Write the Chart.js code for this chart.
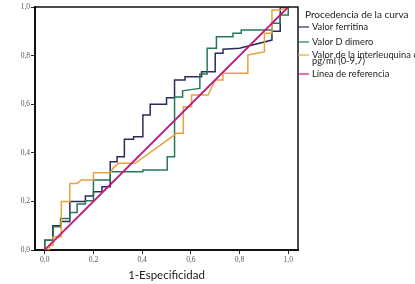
<!DOCTYPE html>
<html>
<head>
<meta charset="utf-8">
<script src="https://cdn.jsdelivr.net/npm/chart.js@4.4.0/dist/chart.umd.min.js"></script>
<style>
  html, body { margin: 0; padding: 0; background: #fff; }
  #wrap { width: 415px; height: 284px; }
</style>
</head>
<body>
<div id="wrap"><canvas id="roc" width="415" height="284"></canvas></div>
<script>
// ROC curves
const tickValues = [0, 0.2, 0.4, 0.6, 0.8, 1.0];

const ferritinaX = [0, 0, 0.033, 0.033, 0.067, 0.067, 0.103, 0.103, 0.167, 0.167, 0.2, 0.2, 0.235, 0.235, 0.269, 0.269, 0.297, 0.297, 0.327, 0.327, 0.365, 0.365, 0.403, 0.403, 0.433, 0.433, 0.5, 0.5, 0.533, 0.533, 0.576, 0.576, 0.644, 0.644, 0.7, 0.7, 0.732, 0.732, 0.8, 0.933, 0.933, 0.967, 0.967, 1];
const ferritinaY = [0, 0.04, 0.04, 0.1, 0.1, 0.117, 0.117, 0.2, 0.2, 0.222, 0.222, 0.24, 0.24, 0.26, 0.26, 0.363, 0.363, 0.384, 0.384, 0.456, 0.456, 0.466, 0.466, 0.556, 0.556, 0.6, 0.6, 0.627, 0.627, 0.7, 0.7, 0.713, 0.713, 0.734, 0.734, 0.81, 0.81, 0.826, 0.83, 0.864, 0.9, 0.9, 1, 1];

const dimeroX = [0, 0, 0.035, 0.035, 0.065, 0.065, 0.103, 0.103, 0.133, 0.133, 0.167, 0.167, 0.2, 0.2, 0.269, 0.269, 0.403, 0.403, 0.503, 0.503, 0.533, 0.533, 0.566, 0.566, 0.6, 0.637, 0.637, 0.667, 0.667, 0.705, 0.705, 0.773, 0.773, 0.807, 0.807, 0.933, 0.933, 0.967, 0.967, 1, 1];
const dimeroY = [0, 0.04, 0.04, 0.096, 0.096, 0.13, 0.13, 0.154, 0.154, 0.189, 0.189, 0.203, 0.203, 0.288, 0.288, 0.322, 0.322, 0.329, 0.329, 0.384, 0.384, 0.63, 0.63, 0.655, 0.66, 0.665, 0.724, 0.724, 0.83, 0.83, 0.878, 0.878, 0.892, 0.892, 0.905, 0.905, 0.933, 0.933, 0.967, 0.967, 1];

const il6X = [0, 0.02, 0.02, 0.035, 0.035, 0.068, 0.068, 0.103, 0.103, 0.133, 0.15, 0.2, 0.2, 0.269, 0.28, 0.303, 0.371, 0.542, 0.569, 0.569, 0.603, 0.603, 0.671, 0.7, 0.732, 0.732, 0.834, 0.834, 0.87, 0.902, 0.902, 0.933, 0.933, 0.967, 1];
const il6Y = [0, 0, 0.02, 0.02, 0.055, 0.055, 0.2, 0.2, 0.274, 0.274, 0.288, 0.288, 0.318, 0.318, 0.336, 0.357, 0.357, 0.48, 0.48, 0.59, 0.59, 0.638, 0.638, 0.7, 0.7, 0.727, 0.727, 0.802, 0.81, 0.815, 0.892, 0.892, 0.988, 0.988, 1];

const refX = [0, 1];
const refY = [0, 1];

const seriesNames = ['Valor ferritina', 'Valor D dimero', ['Valor de la interleuquina 6', 'pg/ml (0-9,7)'], 'Línea de referencia'];
const seriesColors = ['#2b2a5c', '#2a7757', '#e8a33e', '#c4177f'];
const legendTitle = 'Procedencia de la curva';
const xTitle = '1-Especificidad';

function toPoints(xs, ys) {
  return xs.map((x, i) => ({ x: x, y: ys[i] }));
}

const fmt = v => v.toFixed(1).replace('.', ',');

// frame on top/right + legend on the right side
const framePlugin = {
  id: 'frameAndLegend',
  afterDraw(chart) {
    const ctx = chart.ctx;
    const a = chart.chartArea;
    ctx.save();
    ctx.strokeStyle = '#111';
    ctx.lineWidth = 1.5;
    ctx.beginPath();
    ctx.moveTo(a.left, a.top);
    ctx.lineTo(a.right, a.top);
    ctx.lineTo(a.right, a.bottom);
    ctx.stroke();

    ctx.fillStyle = '#222';
    ctx.textBaseline = 'middle';
    ctx.font = '10px Lato';
    ctx.fillText(legendTitle, a.right + 7, 15);

    ctx.font = '9.3px Lato';
    const rows = [27, 42, 55, 74];
    seriesNames.forEach((name, i) => {
      const y = rows[i];
      ctx.strokeStyle = seriesColors[i];
      ctx.lineWidth = 1.2;
      ctx.beginPath();
      ctx.moveTo(a.right, y);
      ctx.lineTo(a.right + 11, y);
      ctx.stroke();
      ctx.fillStyle = '#222';
      if (Array.isArray(name)) {
        ctx.fillText(name[0], a.right + 14, y);
        ctx.fillText(name[1], a.right + 14, y + 6);
      } else {
        ctx.fillText(name, a.right + 14, y);
      }
    });
    ctx.restore();
  }
};

const datasets = [
  { label: 'Valor ferritina', data: toPoints(ferritinaX, ferritinaY), borderColor: seriesColors[0], order: 4 },
  { label: 'Valor D dimero', data: toPoints(dimeroX, dimeroY), borderColor: seriesColors[1], order: 3 },
  { label: 'Valor de la interleuquina 6 pg/ml (0-9,7)', data: toPoints(il6X, il6Y), borderColor: seriesColors[2], order: 2 },
  { label: 'Línea de referencia', data: toPoints(refX, refY), borderColor: seriesColors[3], order: 1, borderWidth: 1.8 }
].map(d => Object.assign({ showLine: true, pointRadius: 0, borderWidth: 1.5, tension: 0, fill: false }, d));

new Chart(document.getElementById('roc'), {
  type: 'scatter',
  data: { datasets: datasets },
  options: {
    responsive: false,
    animation: false,
    layout: { padding: { top: 7, right: 117, left: 0, bottom: 0 } },
    plugins: { legend: { display: false }, tooltip: { enabled: false } },
    scales: {
      x: {
        type: 'linear',
        min: -0.04,
        max: 1.04,
        afterBuildTicks: s => { s.ticks = tickValues.map(v => ({ value: v })); },
        afterFit: s => { s.height = 34; },
        grid: { display: true, drawOnChartArea: false, drawTicks: true, tickLength: 4, color: '#222' },
        border: { display: true, color: '#111', width: 2 },
        ticks: { callback: v => fmt(v), color: '#555', padding: 2, maxRotation: 0, font: { family: 'Liberation Serif', size: 7.5 } },
        title: { display: true, text: xTitle, color: '#222', padding: { top: 0, bottom: 2 }, font: { family: 'Lato', size: 11.5 } }
      },
      y: {
        type: 'linear',
        min: 0,
        max: 1,
        afterBuildTicks: s => { s.ticks = tickValues.map(v => ({ value: v })); },
        afterFit: s => { s.width = 35; },
        grid: { display: true, drawOnChartArea: false, drawTicks: true, tickLength: 4, color: '#222' },
        border: { display: true, color: '#111', width: 2 },
        ticks: { callback: v => fmt(v), color: '#555', padding: 1, font: { family: 'Liberation Serif', size: 7.5 } }
      }
    }
  },
  plugins: [framePlugin]
});
</script>
</body>
</html>
